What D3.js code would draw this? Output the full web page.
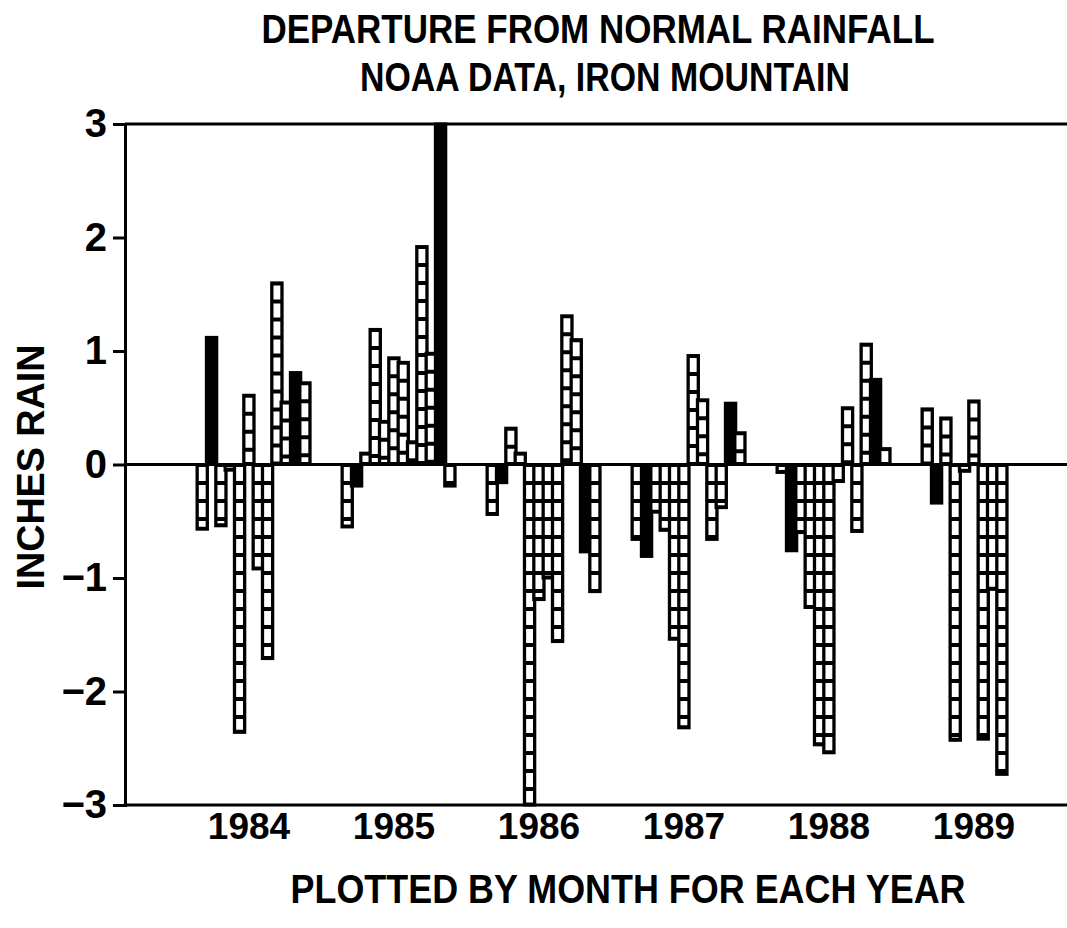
<!DOCTYPE html>
<html>
<head>
<meta charset="utf-8">
<script src="https://cdn.jsdelivr.net/npm/d3@7"></script>
<style>
  html, body { margin: 0; padding: 0; background: #fff; }
  svg { display: block; }
  text { font-family: "Liberation Sans Narrow", "Liberation Sans", Arial, sans-serif; fill: #000; }
</style>
</head>
<body>
<svg id="chart" width="1067" height="928"></svg>
<script>
// ---- data (inches departure from normal, by month) ----
const years = ["1984", "1985", "1986", "1987", "1988", "1989"];
const months = ["M1","M2","M3","M4","M5","M6","M7","M8","M9","M10","M11","M12"];
const values1984 = [-0.57, 1.12, -0.54, -0.05, -2.36, 0.61, -0.92, -1.71, 1.60, 0.55, 0.81, 0.72];
const values1985 = [-0.55, -0.19, 0.10, 1.19, 0.38, 0.94, 0.90, 0.20, 1.92, 0.98, 3.00, -0.19];
const values1986 = [-0.44, -0.16, 0.32, 0.10, -3.00, -1.19, -1.00, -1.56, 1.31, 1.10, -0.77, -1.12];
const values1987 = [-0.66, -0.81, -0.42, -0.58, -1.54, -2.32, 0.96, 0.57, -0.66, -0.38, 0.54, 0.28];
const values1988 = [-0.07, -0.76, -0.60, -1.26, -2.47, -2.54, -0.15, 0.50, -0.59, 1.06, 0.75, 0.14];
const values1989 = [0.49, -0.34, 0.41, -2.43, -0.06, 0.56, -2.42, -1.10, -2.73];
// months drawn as solid black bars
const solidMonths = ["M2", "M11"];
const yTicks = [-3, -2, -1, 0, 1, 2, 3];
const titleLines = ["DEPARTURE FROM NORMAL RAINFALL", "NOAA DATA, IRON MOUNTAIN"];
const xTitle = "PLOTTED BY MONTH FOR EACH YEAR";
const yTitle = "INCHES RAIN";

const seriesByYear = [values1984, values1985, values1986, values1987, values1988, values1989];
const data = [];
years.forEach((yr, i) => seriesByYear[i].forEach((v, m) => data.push({ year: yr, month: months[m], value: v })));

// ---- layout ----
const svg = d3.select("#chart");
const W = 1067, H = 928;
const plotLeft = 125, plotTop = 124, plotBottom = 805;

const y = d3.scaleLinear().domain([-3, 3]).range([plotBottom, plotTop]);
const xYear = d3.scaleBand().domain(years).range([plotLeft, 1106]).paddingInner(0.2276).paddingOuter(0.4966);
const xMonth = d3.scaleBand().domain(months).range([0, xYear.bandwidth()]).padding(0);

svg.append("rect").attr("width", W).attr("height", H).attr("fill", "#fff");

// bars
const barW = xMonth.step() * 1.12;
const sw = 3;
const bars = svg.append("g");
data.forEach(d => {
  const x0 = xYear(d.year) + xMonth(d.month);
  const y0 = Math.min(y(0), y(d.value));
  const h = Math.abs(y(d.value) - y(0));
  const g = bars.append("g");
  g.append("rect")
    .attr("x", x0 - sw / 2).attr("y", y0 - sw / 2)
    .attr("width", barW + sw).attr("height", h + sw)
    .attr("fill", "#000");
  if (!solidMonths.includes(d.month) && h > 5) {
    g.append("line")
      .attr("x1", x0 + barW / 2).attr("x2", x0 + barW / 2)
      .attr("y1", y0 + sw / 2 + 1).attr("y2", y0 + h - sw / 2 - 1)
      .attr("stroke", "#fff").attr("stroke-width", barW - sw * 1.2)
      .attr("stroke-dasharray", "14 4");
  }
});

// frame lines at 3, 0, -3
[3, 0, -3].forEach(v => {
  svg.append("line").attr("x1", plotLeft).attr("x2", W)
    .attr("y1", y(v)).attr("y2", y(v))
    .attr("stroke", "#000").attr("stroke-width", 3);
});

// y axis
const yAxis = svg.append("g").attr("transform", `translate(${plotLeft},0)`)
  .call(d3.axisLeft(y).tickValues(yTicks).tickSize(12).tickPadding(6).tickFormat(d3.format("d")));
yAxis.select(".domain").attr("stroke", "#000").attr("stroke-width", 3);
yAxis.selectAll(".tick line").attr("stroke", "#000").attr("stroke-width", 3);
yAxis.selectAll(".tick text")
  .style("font-family", "'Liberation Sans', Arial, sans-serif")
  .style("font-size", "40px").style("font-weight", "bold").attr("fill", "#000");

// x axis (year labels)
const xAxis = svg.append("g").attr("transform", `translate(-4,${plotBottom})`)
  .call(d3.axisBottom(xYear).tickSize(0).tickPadding(0));
xAxis.select(".domain").remove();
xAxis.selectAll(".tick text")
  .attr("y", 21).attr("dy", "0.36em")
  .style("font-family", "'Liberation Sans', Arial, sans-serif")
  .style("font-size", "37px").style("font-weight", "bold").attr("fill", "#000");

// titles
const tStyle = sel => sel.style("font-size", "40px").style("font-weight", "bold");
svg.append("text").attr("x", 598).attr("y", 43).attr("text-anchor", "middle")
  .attr("textLength", 673).attr("lengthAdjust", "spacingAndGlyphs")
  .call(tStyle).text(titleLines[0]);
svg.append("text").attr("x", 605).attr("y", 91).attr("text-anchor", "middle")
  .attr("textLength", 490).attr("lengthAdjust", "spacingAndGlyphs")
  .call(tStyle).text(titleLines[1]);
svg.append("text").attr("x", 628).attr("y", 903).attr("text-anchor", "middle")
  .attr("textLength", 675).attr("lengthAdjust", "spacingAndGlyphs")
  .call(tStyle).text(xTitle);
svg.append("text").attr("transform", "translate(44,467) rotate(-90)").attr("text-anchor", "middle")
  .attr("textLength", 245).attr("lengthAdjust", "spacingAndGlyphs")
  .style("font-size", "38px").style("font-weight", "bold").text(yTitle);
</script>
</body>
</html>
